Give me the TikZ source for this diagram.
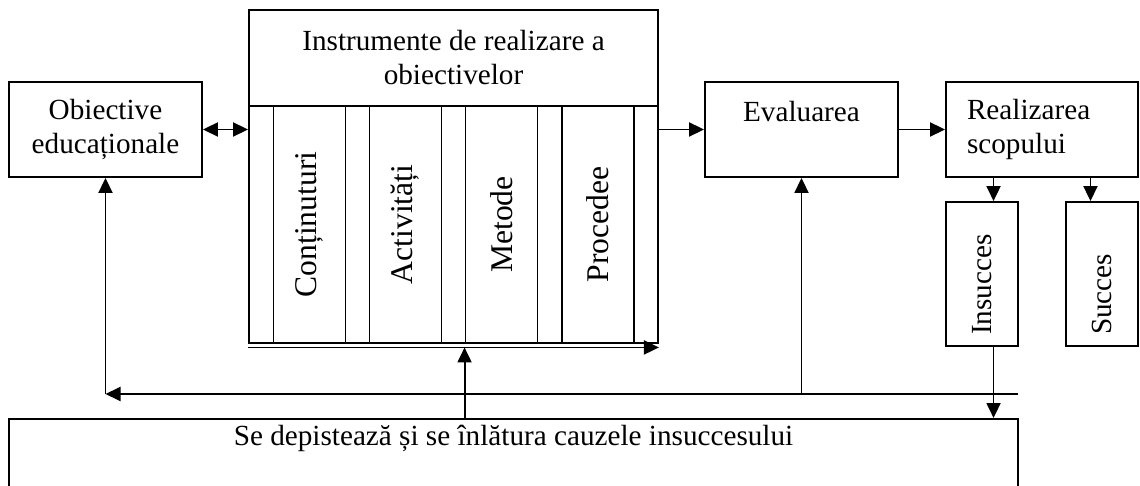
\documentclass[tikz,border=0pt]{standalone}
\usepackage{fontspec}
\setmainfont{Liberation Serif}
\usepackage{tikz}
\usetikzlibrary{arrows.meta}
\usetikzlibrary{calc}

\begin{document}
\begin{tikzpicture}[x=0.5pt,y=-0.5pt,line width=0.95pt,
  >={Triangle[length=7.5pt,width=7pt]},
  every node/.style={font=\fontsize{14.6}{17}\selectfont},
  box/.style={draw,inner sep=0pt,align=center},
  col/.style={draw,rotate=90,inner sep=0pt,minimum width=118.5pt,minimum height=36pt,font=\fontsize{15.8}{19}\selectfont},
  rez/.style={draw,rotate=90,inner xsep=5.5pt,inner ysep=0pt,text width=61pt,align=left,minimum height=36pt}]
  \useasboundingbox (0,0) rectangle (1140,486);
  \node[box,minimum width=96.5pt,minimum height=47.5pt] (obj) at (105.5,129.5) {Obiective\\educaționale};
  \node[box,minimum width=204.5pt,minimum height=48pt] (head) at (453.5,58) {Instrumente de realizare a\\obiectivelor};
  \node[box,minimum width=204.5pt,minimum height=118.5pt] (tools) at (453.5,224.5) {};
  \foreach \n/\x/\t in {cont/309.5/Conținuturi, act/405.5/Activități, met/501.5/Metode, proc/598/Procedee}
    \node[col] (\n) at (\x,224.5) {\t};
  \node[box,minimum width=96.5pt,text height=20pt,text depth=27.5pt] (eval) at (801.5,129.5) {Evaluarea};
  \node[box,align=left,text width=75pt,inner xsep=10.5pt,minimum height=47.5pt] (real) at (1042,129.5) {Realizarea\\scopului};
  \node[rez] (ins) at (982,274) {Insucces};
  \node[rez] (succ) at (1102,274) {Succes};
  \node[box,anchor=north,minimum width=504.5pt,text height=13.5pt,text depth=27.5pt] (cauze) at (513.5,418) {Se depistează și se înlătura cauzele insuccesului};

  \draw[<->] (obj.east) -- (obj.east -| tools.west);
  \draw[->] (tools.east |- eval.west) -- (eval.west);
  \draw[->] (eval) -- (real);
  \coordinate (bl) at ($(tools.south west)+(0,3.5)$);
  \coordinate (br) at ($(tools.south east)+(0,3.5)$);
  \draw[->] (bl) -- (br);
  \draw[->] (met.north west |- cauze.north) -- (met.north west |- bl);
  %% rotated boxes: east is the top side, west the bottom side
  \coordinate (q1) at ($(real.south west)!.25!(real.south east)$);
  \coordinate (q3) at ($(real.south west)!.75!(real.south east)$);
  \draw[->] (q1) -- (q1 |- ins.east);
  \draw[->] (q3) -- (q3 |- succ.east);
  \draw[->] (q1 |- ins.west) -- (q1 |- cauze.north);
  %% feedback line
  \coordinate (fbR) at (1018,394);
  \coordinate (fbL) at (obj.south |- fbR);
  \draw[->] (fbR) -- (fbL);
  \draw[->] (fbL) -- (obj.south);
  \draw[->] (eval.south |- fbL) -- (eval.south);
\end{tikzpicture}
\end{document}
